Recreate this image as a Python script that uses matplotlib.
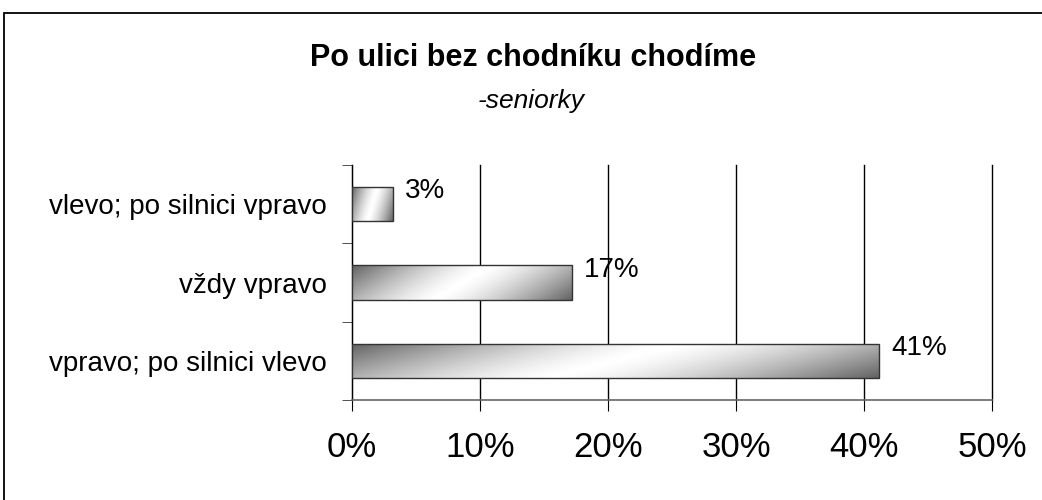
import numpy as np
import matplotlib
matplotlib.use("Agg")
import matplotlib.pyplot as plt
from matplotlib.patches import Rectangle

plt.rcParams['font.family'] = ['Liberation Sans', 'DejaVu Sans']

# data (top to bottom)
categories = ["vlevo; po silnici vpravo", "vždy vpravo", "vpravo; po silnici vlevo"]
values = [3.2, 17.2, 41.2]
xticks = [0, 10, 20, 30, 40, 50]

title = "Po ulici bez chodníku chodíme"
subtitle = "-seniorky"

W, H = 1042, 500
fig = plt.figure(figsize=(W / 100, H / 100), dpi=100)
ax = fig.add_axes([352 / W, 1 - 400 / H, 640 / W, 235 / H])

# outer chart frame (runs off the right and bottom edges)
fig.add_artist(Rectangle((4 / W, -0.1), 1.2, 0.1 + 1 - 13 / H, transform=fig.transFigure,
                         fill=False, edgecolor='black', lw=1.3))

pos = np.arange(len(categories))[::-1]  # first category on top
bars = ax.barh(pos, values, height=0.44, color='none', edgecolor='#333333', lw=1.0, zorder=4)

# diagonal grey-white-grey gradient inside each bar
uu, vv = np.meshgrid(np.linspace(0, 1, 300), np.linspace(0, 1, 60))
t = (uu * 0.8 + vv * 0.2)
shade = 1 - 0.62 * np.abs(2 * t - 1) ** 1.4
for b in bars:
    x0, y0 = b.get_x(), b.get_y()
    im = ax.imshow(shade, extent=[x0, x0 + b.get_width(), y0, y0 + b.get_height()],
                   cmap='gray', vmin=0, vmax=1, aspect='auto', origin='upper',
                   zorder=3, interpolation='bilinear')
    im.set_clip_path(b)

for p, v in zip(pos, values):
    ax.annotate(f"{v:.0f}%", (v, p), xytext=(12, 13), textcoords='offset pixels',
                ha='left', va='center', fontsize=20, zorder=5)

ax.set_xlim(0, 50)
ax.set_ylim(-0.5, len(categories) - 0.5)
ax.set_xticks(xticks)
ax.set_xticklabels([f"{x}%" for x in xticks], fontsize=25)
ax.set_yticks(pos)
ax.set_yticklabels(categories, fontsize=20)
ax.set_yticks(np.arange(-0.5, len(categories)), minor=True)
ax.tick_params(axis='y', which='major', length=0, pad=18)
ax.tick_params(axis='y', which='minor', length=7, direction='out', color='#333333')
ax.tick_params(axis='x', length=8, direction='out', pad=14, color='black')

ax.grid(axis='x', color='black', lw=1.0, zorder=1)
for gl in ax.get_xgridlines():
    gl.set_clip_on(False)
ax.set_axisbelow(True)
for s in ['top', 'right']:
    ax.spines[s].set_visible(False)
ax.spines['left'].set_color('black')
ax.spines['bottom'].set_color('#666666')
ax.spines['bottom'].set_linewidth(1.2)

fig.text(533 / W, 1 - 58 / H, title, ha='center', va='center', fontsize=22, fontweight='bold')
fig.text(531 / W, 1 - 101 / H, subtitle, ha='center', va='center', fontsize=19, style='italic')

fig.savefig("out.png", dpi=100)
